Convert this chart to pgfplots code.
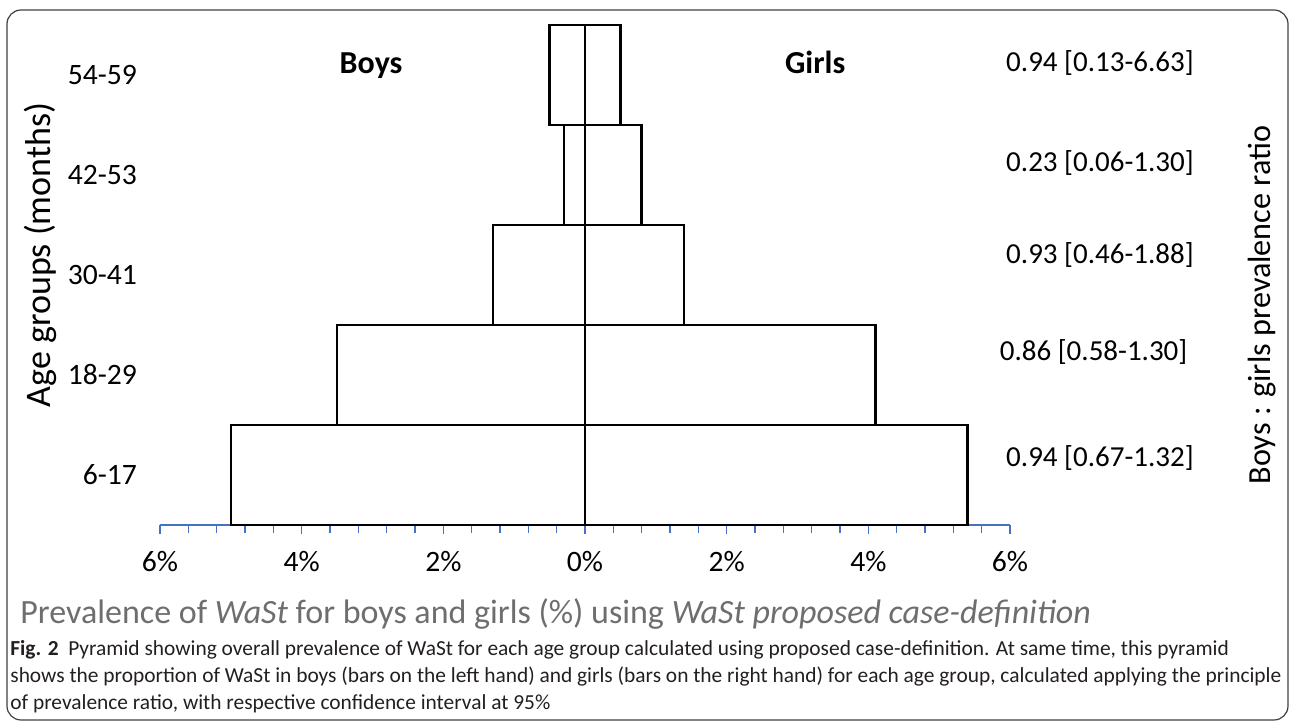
\documentclass[border=0pt]{standalone}
\usepackage{fontspec}
\setmainfont{Carlito}
\usepackage{pgfplots}
\pgfplotsset{compat=1.18}
\definecolor{axblue}{HTML}{4472C4}
\definecolor{titlegray}{HTML}{6E6E6E}
\definecolor{captext}{HTML}{231F20}
\begin{document}
\begin{tikzpicture}
\useasboundingbox (-80pt,-98.5pt) rectangle (566pt,262.5pt);
\draw[rounded corners=7pt, line width=0.6pt, black!75] (-76.5pt,-97.5pt) rectangle (564pt,257.5pt);
\begin{axis}[
  scale only axis, width=425pt, height=250pt,
  at={(0pt,0pt)}, anchor=south west,
  xmin=-6, xmax=6, ymin=0.5, ymax=5.5,
  axis x line*=bottom, axis y line*=left,
  y axis line style={draw=none},
  x axis line style={axblue, line width=0.8pt, -},
  xtick={-6,-4,-2,0,2,4,6},
  xticklabels={6\%,4\%,2\%,0\%,2\%,4\%,6\%},
  minor x tick num=4,
  tick align=outside,
  xtick style={axblue, line width=0.6pt},
  major tick length=4.5pt, minor tick length=3.8pt,
  ytick={1,...,5}, yticklabels={6-17,18-29,30-41,42-53,54-59},
  ytick style={draw=none},
  xbar, bar width=50pt, bar shift=0pt,
  clip=false,
  tick label style={font=\fontsize{14.8}{17}\selectfont, text=black},
  xticklabel style={yshift=-5pt},
  yticklabel style={xshift=-3.5pt},
  ylabel={Age groups (months)},
  ylabel style={font=\fontsize{18}{21}\selectfont, at={(rel axis cs:-0.141,0.54)}, anchor=center},
]
\addplot[draw=black, fill=white, line width=1.25pt] coordinates {(-5.0,1) (-3.5,2) (-1.3,3) (-0.3,4) (-0.5,5)};
\addplot[draw=black, fill=white, line width=1.25pt] coordinates {(5.4,1) (4.1,2) (1.4,3) (0.8,4) (0.5,5)};
\node[anchor=base, font=\fontsize{16}{19}\selectfont\bfseries] at (axis cs:-3.02,5.01) {Boys};
\node[anchor=base, font=\fontsize{16}{19}\selectfont\bfseries] at (axis cs:3.25,5.01) {Girls};
\begin{scope}[every node/.style={font=\fontsize{14.5}{17}\selectfont}]
\node at (axis cs:7.27,5.12) {0.94 [0.13-6.63]};
\node at (axis cs:7.27,4.12) {0.23 [0.06-1.30]};
\node at (axis cs:7.27,3.20) {0.93 [0.46-1.88]};
\node at (axis cs:7.18,2.23) {0.86 [0.58-1.30]};
\node at (axis cs:7.27,1.17) {0.94 [0.67-1.32]};
\end{scope}
\node[rotate=90, font=\fontsize{16.1}{19}\selectfont] at (rel axis cs:1.2965,0.44) {Boys : girls prevalence ratio};
\end{axis}
\node[anchor=west, text=titlegray, font=\fontsize{17}{20}\selectfont, inner sep=0pt] at (-70pt,-44.5pt)
  {Prevalence of \textit{WaSt} for boys and girls (\%) using \textit{WaSt proposed case-definition}};
\begin{scope}[every node/.style={anchor=west, text=captext, font=\fontsize{10.7}{12}\selectfont, inner sep=0pt}]
\node at (-75pt,-62.5pt) {\textbf{Fig. 2}\ \ Pyramid showing overall prevalence of WaSt for each age group calculated using proposed case-definition. At same time, this pyramid};
\node at (-75pt,-76pt) {shows the proportion of WaSt in boys (bars on the left hand) and girls (bars on the right hand) for each age group, calculated applying the principle};
\node at (-75pt,-89.5pt) {of prevalence ratio, with respective confidence interval at 95\%};
\end{scope}
\end{tikzpicture}
\end{document}
